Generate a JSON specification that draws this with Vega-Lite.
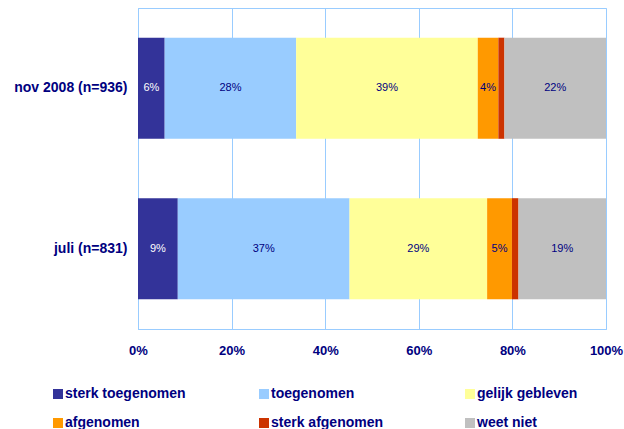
{
  "$schema": "https://vega.github.io/schema/vega-lite/v6.json",
  "width": 468,
  "height": 321,
  "autosize": "none",
  "padding": {"left": 138, "top": 8, "right": 18, "bottom": 100},
  "background": "white",
  "config": {"view": {"stroke": "#99ccff", "strokeWidth": 1}, "font": "Liberation Sans"},
  "data": {"values": [
    {"periode": "nov 2008 (n=936)", "categorie": "sterk toegenomen", "nr": 1, "aandeel": 0.057},
    {"periode": "nov 2008 (n=936)", "categorie": "toegenomen", "nr": 2, "aandeel": 0.281},
    {"periode": "nov 2008 (n=936)", "categorie": "gelijk gebleven", "nr": 3, "aandeel": 0.388},
    {"periode": "nov 2008 (n=936)", "categorie": "afgenomen", "nr": 4, "aandeel": 0.044},
    {"periode": "nov 2008 (n=936)", "categorie": "sterk afgenomen", "nr": 5, "aandeel": 0.013},
    {"periode": "nov 2008 (n=936)", "categorie": "weet niet", "nr": 6, "aandeel": 0.217},
    {"periode": "juli (n=831)", "categorie": "sterk toegenomen", "nr": 1, "aandeel": 0.085},
    {"periode": "juli (n=831)", "categorie": "toegenomen", "nr": 2, "aandeel": 0.367},
    {"periode": "juli (n=831)", "categorie": "gelijk gebleven", "nr": 3, "aandeel": 0.294},
    {"periode": "juli (n=831)", "categorie": "afgenomen", "nr": 4, "aandeel": 0.053},
    {"periode": "juli (n=831)", "categorie": "sterk afgenomen", "nr": 5, "aandeel": 0.014},
    {"periode": "juli (n=831)", "categorie": "weet niet", "nr": 6, "aandeel": 0.187}
  ]},
  "transform": [
    {"stack": "aandeel", "groupby": ["periode"], "sort": [{"field": "nr", "order": "ascending"}], "as": ["x0", "x1"]}
  ],
  "encoding": {
    "y": {
      "field": "periode", "type": "nominal",
      "sort": ["nov 2008 (n=936)", "juli (n=831)"],
      "scale": {"paddingInner": 0.37, "paddingOuter": 0.185},
      "axis": {"title": null, "ticks": false, "labelPadding": 11, "labelFontSize": 14, "labelFontWeight": "bold", "labelColor": "#000080", "domainColor": "#99ccff", "grid": false}
    }
  },
  "layer": [
    {
      "mark": {"type": "bar"},
      "encoding": {
        "x": {"field": "x0", "type": "quantitative", "scale": {"domain": [0, 1]},
          "axis": {"title": null, "format": ".0%", "values": [0, 0.2, 0.4, 0.6, 0.8, 1], "ticks": false, "labelPadding": 15, "labelFontSize": 13, "labelFontWeight": "bold", "labelColor": "#000080", "domainColor": "#99ccff", "gridColor": "#99ccff", "gridOpacity": 1, "labelFlush": false}},
        "x2": {"field": "x1"},
        "color": {
          "field": "categorie", "type": "nominal",
          "scale": {
            "domain": ["sterk toegenomen", "toegenomen", "gelijk gebleven", "afgenomen", "sterk afgenomen", "weet niet"],
            "range": ["#333399", "#99ccff", "#ffff99", "#ff9900", "#cc3300", "#c0c0c0"]
          },
          "legend": {
            "title": null, "orient": "none", "legendX": -87, "legendY": 379,
            "direction": "horizontal", "columns": 3, "gridAlign": "all", "columnPadding": 71, "rowPadding": 15,
            "symbolType": "square", "symbolSize": 100, "symbolStrokeWidth": 0, "labelOffset": 0,
            "labelFontSize": 14, "labelFontWeight": "bold", "labelColor": "#000080", "labelLimit": 300
          }
        }
      }
    },
    {
      "transform": [
        {"filter": "datum.aandeel >= 0.03"},
        {"fold": ["x0", "x1"], "as": ["rand", "pos"]}
      ],
      "mark": {"type": "text", "fontSize": 11},
      "encoding": {
        "x": {"field": "pos", "aggregate": "mean", "type": "quantitative", "stack": null},
        "detail": {"field": "categorie", "type": "nominal"},
        "text": {"field": "aandeel", "type": "quantitative", "format": ".0%"},
        "color": {"condition": {"test": "datum.categorie === 'sterk toegenomen'", "value": "white"}, "value": "#000080"}
      }
    }
  ]
}
